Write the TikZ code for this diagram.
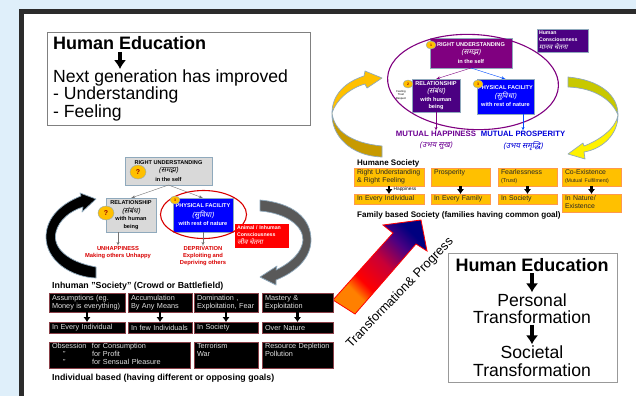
\documentclass[tikz,border=0pt]{standalone}
\usepackage{fontspec}
\setmainfont{Liberation Sans}
\newfontfamily\hindi[Script=Devanagari,FakeSlant=0.2,Scale=1.3]{Noto Sans}
\usepackage{tikz}
\usetikzlibrary{arrows,arrows.meta,shapes.geometric}
\setlength{\tabcolsep}{0pt}
\definecolor{pagesky}{HTML}{DFEFFA}
\definecolor{frame}{HTML}{2B2B2B}
\definecolor{amber}{HTML}{FFC000}
\definecolor{amberdark}{HTML}{C79A00}
\definecolor{indigoish}{HTML}{4B0082}
\definecolor{plum}{HTML}{800080}
\definecolor{olivey}{HTML}{C8C800}
\definecolor{steel}{HTML}{8FA9BC}
\definecolor{bloodline}{HTML}{8A4048}
\pgfdeclarehorizontalshading{bigshade}{100bp}{color(0bp)=(orange); color(31bp)=(orange); color(38bp)=(red); color(53bp)=(purple!85!red); color(66bp)=(indigoish); color(75bp)=(blue!50!black); color(100bp)=(blue!50!black)}

\begin{document}
\begin{tikzpicture}[
    x=1pt,
    y=-1pt,
    >=latex',
    font=\fontsize{7}{8}\selectfont,
    whitebox/.style={
		rectangle,
		draw=gray,
		fill=white,
		anchor=north west
	},
	tabcell/.style={
		rectangle,
		anchor=north west,
		inner sep=0pt,
		outer sep=0pt
	},
	blackcell/.style={
		tabcell,
		draw=bloodline,
		line width=0.7pt,
		fill=black,
		align=left,
		text=white!88!black,
		font=\fontsize{7.3}{8}\selectfont
	},
	humanecell/.style={
		tabcell,
		draw=orange!60!pink,
		line width=0.6pt,
		fill=amber,
		align=left,
		text=black!85,
		font=\fontsize{6.9}{8}\selectfont
	},
	colourcell/.style={
		tabcell,
		draw=steel,
		line width=0.6pt,
		text=white,
		font=\bfseries\fontsize{5.6}{8.4}\selectfont
	},
	mindcell/.style={
		colourcell,
		align=left,
		font=\bfseries\fontsize{5.2}{6.6}\selectfont
	},
	badge/.style={
		ellipse,
		draw=steel,
		fill=amber,
		inner sep=0pt,
		text=red!60!black,
		font=\bfseries\fontsize{3.5}{4}\selectfont
	},
	bigbadge/.style={
		badge,
		minimum width=16pt,
		minimum height=14pt,
		font=\bfseries\fontsize{7}{8}\selectfont
	},
	heading/.style={
		anchor=west,
		inner sep=0pt,
		font=\bfseries\fontsize{8}{9}\selectfont
	},
	bigtext/.style={
		inner sep=1pt,
		font=\fontsize{17.6}{19}\selectfont
	},
	fatarrow/.style={
		-{Latex[length=5pt,width=7.5pt]},
		line width=2.4pt,
		black
	},
	hugearrow/.style={
		-{Latex[length=9pt,width=12.5pt]},
		line width=4pt,
		black
	},
	ribbon/.style={
		draw=steel,
		line width=0.7pt,
		line join=round
	}
  ]
  % page and frame
  \useasboundingbox (0,0) rectangle (636,396);
  \fill [pagesky] (0,0) rectangle (636,396);
  \fill [frame] (19,9) rectangle (636,396);
  \fill [white] (24,14) rectangle (636,396);

  % upper left box
  \node [whitebox, minimum width=263pt, minimum height=93pt] (topbox) at (47,32) {};
  \node [bigtext, anchor=west, inner sep=0pt, font=\bfseries\fontsize{18}{19}\selectfont] (topeduc) at (53,43) {Human Education};
  \node [bigtext, anchor=west, inner sep=0pt] (nextgen) at (53,78) {Next generation has improved};
  \node [bigtext, anchor=west, inner sep=0pt] (underst) at (53,95) {- Understanding};
  \node [bigtext, anchor=west, inner sep=0pt] (feeling) at (53,113) {- Feeling};
  \coordinate (topfrom) at (120,52);
  \coordinate (topto) at (120,69);
  \draw [hugearrow] (topfrom) -- (topto);

  % curved arrows round the upper diagram
  \path [ribbon, fill=amber] (382,78) -- (365,71) -- (364,76) .. controls (345,82) and (332,95) .. (332,113)
     .. controls (336,100) and (350,88) .. (365,84) -- (367,88) -- cycle;
  \path [ribbon, fill=amberdark] (332,113) .. controls (331,135) and (350,156) .. (382,157) -- (382,146)
     .. controls (350,143) and (334,130) .. (332,113) -- cycle;
  \path [ribbon, fill=olivey] (568,77) .. controls (600,80) and (618,95) .. (618,115)
     .. controls (612,100) and (595,88) .. (568,87) -- cycle;
  \path [ribbon, fill=yellow] (618,115) .. controls (618,135) and (602,149) .. (584,152) -- (585,159) -- (568,154) -- (583,143) -- (584,146)
     .. controls (600,140) and (616,128) .. (618,115) -- cycle;

  % upper diagram
  \node [colourcell, fill=plum, minimum width=82pt, minimum height=30pt] (goodru) at (430,38)
 {%
 \begin{tabular}{c}
  RIGHT UNDERSTANDING\\
  {\hindi (समझ)}\\
  in the self
 \end{tabular}
 };
 \node [colourcell, fill=indigoish, minimum width=48pt, minimum height=33pt, font=\bfseries\fontsize{5.6}{7.6}\selectfont] (goodrel) at (412,79)
 {%
 \begin{tabular}{c}
  RELATIONSHIP\\
  {\hindi (संबंध)}\\
  with human\\
  being
 \end{tabular}
 };
 \node [colourcell, fill=blue, minimum width=57pt, minimum height=35pt] (goodphys) at (477,79)
 {%
 \begin{tabular}{c}
  PHYSICAL FACILITY\\
  {\hindi (सुविधा)}\\
  with rest of nature
 \end{tabular}
 };
 \node [mindcell, fill=indigoish, minimum width=51pt, minimum height=23pt, text width=47pt] (humanmind) at (537,29)
 {%
 \begin{tabular}{l}
  Human\\
  Consciousness\\
  {\hindi मानव चेतना}
 \end{tabular}
 };
 \node [ellipse, draw=plum, line width=1.1pt, minimum width=171pt, minimum height=95pt, rotate=-3, inner sep=0pt] (purplering) at (473,82) {};
 \node [badge, minimum width=10pt, minimum height=8pt] (goodone) at (431,45) {1};
 \node [badge, minimum width=10pt, minimum height=8pt] (goodtwo) at (408,84) {2};
 \node [badge, minimum width=10pt, minimum height=8pt] (goodthree) at (478,84) {3};
 \node [inner sep=0pt, text centered, font=\fontsize{2.8}{3.6}\selectfont] (trustnote) at (401,95)
 {%
 \begin{tabular}{c}
  Feeling\\
  Trust\\
  Respect
 \end{tabular}
 };
 \node [inner sep=0pt, text=plum!85!blue, font=\bfseries\fontsize{7.8}{8}\selectfont] (mhappy) at (436,134) {MUTUAL HAPPINESS};
 \node [inner sep=0pt, text=blue!85!black, font=\bfseries\fontsize{7.7}{8}\selectfont] (mprosp) at (523,134) {MUTUAL PROSPERITY};
 \node [inner sep=0pt, text=plum!85!blue, font=\bfseries\fontsize{6}{8}\selectfont] (mhappyhi) at (436,146) {\hindi (उभय सुख)};
 \node [inner sep=0pt, text=blue!85!black, font=\bfseries\fontsize{6}{8}\selectfont] (mprosphi) at (523,146) {\hindi (उभय समृद्धि)};

 \draw [draw=plum, ->] (goodru.south) -- (goodrel.north);
 \draw [draw=blue!70!cyan, ->] (goodru.south) -- (goodphys.north);
 \draw [draw=plum, ->] (goodrel.south) -- (mhappy.north);
 \draw [draw=blue!70!cyan, ->] (goodphys.south -| mprosp) -- (mprosp.north);

 % humane society table
 \node [heading, font=\bfseries\fontsize{8}{9}\selectfont] (humane) at (357,163) {Humane Society};
 \node [humanecell, minimum width=70pt, minimum height=18pt, text width=64pt] (hurow1) at (354,168)
 {%
 \begin{tabular}{l}
  Right Understanding\\
  \& Right Feeling
 \end{tabular}
 };
 \node [humanecell, minimum width=59pt, minimum height=18pt, text width=53pt] (hurow2) at (431,168)
 {%
 \begin{tabular}{l}
  Prosperity\\
  \phantom{x}
 \end{tabular}
 };
 \node [humanecell, minimum width=59pt, minimum height=18pt, text width=53pt] (hurow3) at (498,168)
 {%
 \begin{tabular}{l}
  Fearlessness\\
  {\fontsize{5.6}{7}\selectfont (Trust)}
 \end{tabular}
 };
 \node [humanecell, minimum width=59pt, minimum height=18pt, text width=53pt] (hurow4) at (562,168)
 {%
 \begin{tabular}{l}
  Co-Existence\\
  {\fontsize{5.2}{7}\selectfont (Mutual Fulfilment)}
 \end{tabular}
 };
 \node [humanecell, minimum width=70pt, minimum height=10pt, text width=64pt] (huwhere1) at (354,194) {In Every Individual};
 \node [humanecell, minimum width=59pt, minimum height=10pt, text width=53pt] (huwhere2) at (431,194) {In Every Family};
 \node [humanecell, minimum width=59pt, minimum height=10pt, text width=53pt] (huwhere3) at (498,194) {In Society};
 \node [humanecell, minimum width=59pt, minimum height=18pt, text width=53pt] (huwhere4) at (562,194)
 {%
 \begin{tabular}{l}
  In Nature/\\
  Existence
 \end{tabular}
 };
 \foreach \i in {1,2,3,4}
   \draw [fatarrow] (hurow\i) -- (huwhere\i);
 \node [inner sep=0pt, font=\fontsize{4.8}{6}\selectfont] (happynote) at (405,189) {Happiness};
 \node [heading, font=\bfseries\fontsize{8.1}{9}\selectfont] (family) at (357,215) {Family based Society (families having common goal)};

 % big arrow and its label
 \path [draw=red, line width=0.8pt, shading=bigshade, shading angle=45] (333,300) -- (393,233) -- (383,225) -- (421,220) -- (427,251) -- (416,244) -- (355,314) -- cycle;
 \node [rotate=46, inner sep=0pt, font=\fontsize{12.7}{15}\selectfont] (transprog) at (400,293) {Transformation\& Progress};

 % lower right box
 \node [whitebox, draw=gray!80, line width=0.8pt, minimum width=169pt, minimum height=129pt] (lowbox) at (448,253) {};
 \node [bigtext, font=\bfseries\fontsize{18}{19}\selectfont] (loweduc) at (532,265) {Human Education};
 \node [bigtext] (personal) at (532,300) {Personal};
 \node [bigtext] (transa) at (532,317) {Transformation};
 \node [bigtext] (societal) at (532,352) {Societal};
 \node [bigtext] (transb) at (532,370) {Transformation};
 \draw [hugearrow] (loweduc) -- (personal);
 \draw [hugearrow] (transa) -- (societal);

 % curved arrows round the lower diagram
 \path [ribbon, fill=black] (96,199) -- (80,193) -- (81,196) .. controls (58,205) and (46,220) .. (46,237)
    .. controls (46,260) and (70,277) .. (96,278) -- (96,267) .. controls (68,262) and (52,248) .. (56,232)
    .. controls (59,220) and (70,211) .. (83,207) -- (82,212) -- cycle;
 \path [ribbon, fill=black!65] (260,200) .. controls (293,203) and (311,218) .. (311,240)
    .. controls (311,258) and (296,272) .. (276,280) -- (276,285) -- (260,277) -- (277,266) -- (276,270)
    .. controls (292,262) and (302,252) .. (303,240) .. controls (303,225) and (285,213) .. (260,211) -- cycle;

 % lower diagram
 \node [colourcell, fill=gray!30, text=black, minimum width=87pt, minimum height=28pt] (badru) at (125,157)
 {%
 \begin{tabular}{c}
  RIGHT UNDERSTANDING\\
  {\hindi (समझ)}\\
  in the self
 \end{tabular}
 };
 \node [colourcell, fill=gray!30, text=black, minimum width=50pt, minimum height=34pt, font=\bfseries\fontsize{5.6}{7.6}\selectfont] (badrel) at (106,198)
 {%
 \begin{tabular}{c}
  RELATIONSHIP\\
  {\hindi (संबंध)}\\
  with human\\
  being
 \end{tabular}
 };
 \node [colourcell, fill=blue, minimum width=60pt, minimum height=34pt] (badphys) at (173,198)
 {%
 \begin{tabular}{c}
  PHYSICAL FACILITY\\
  {\hindi (सुविधा)}\\
  with rest of nature
 \end{tabular}
 };
 \node [ellipse, draw=red!85!black, line width=1.1pt, minimum width=86pt, minimum height=48pt, inner sep=0pt] (redring) at (203.5,214.5) {};
 \node [bigbadge] (badqa) at (138,172) {?};
 \node [bigbadge] (badqb) at (106,213) {?};
 \node [badge, minimum width=10pt, minimum height=8pt] (badthree) at (175,200) {3};
 \node [mindcell, fill=red, draw=red, minimum width=53pt, minimum height=23pt, text width=49pt] (animalmind) at (235,224)
 {%
 \begin{tabular}{l}
  Animal / Inhuman\\
  Consciousness\\
  {\hindi जीव चेतना}
 \end{tabular}
 };
 \node [inner sep=0pt, text=red!85!black, font=\bfseries\fontsize{5.8}{6.6}\selectfont, anchor=north] (unhappy) at (118,246)
 {%
 \begin{tabular}{c}
  UNHAPPINESS\\
  Making others Unhappy
 \end{tabular}
 };
 \node [inner sep=0pt, text=red!85!black, font=\bfseries\fontsize{5.8}{6.6}\selectfont, anchor=north] (deprive) at (203,246)
 {%
 \begin{tabular}{c}
  DEPRIVATION\\
  Exploiting and\\
  Depriving others
 \end{tabular}
 };

 \draw [draw=gray!90!black, ->] (badru.south) -- (badrel.north);
 \draw [draw=gray!90!black, ->] (badru.south) -- (badphys.north);
 \draw [draw=gray!90!black, ->] (badrel.south -| unhappy) -- (unhappy.north);
 \draw [draw=gray!90!black, ->] (badphys.south) -- (deprive.north);

 % inhuman society table
 \node [heading, font=\bfseries\fontsize{8.8}{9}\selectfont] (inhuman) at (52,286) {Inhuman "Society" (Crowd or Battlefield)};
 \node [blackcell, minimum width=76pt, minimum height=19pt, text width=70pt] (inrow1) at (49,293)
 {%
 \begin{tabular}{l}
  Assumptions (eg.\\
  Money is everything)
 \end{tabular}
 };
 \node [blackcell, minimum width=64pt, minimum height=19pt, text width=58pt] (inrow2) at (128,293)
 {%
 \begin{tabular}{l}
  Accumulation\\
  By Any Means
 \end{tabular}
 };
 \node [blackcell, minimum width=64pt, minimum height=19pt, text width=58pt] (inrow3) at (194,293)
 {%
 \begin{tabular}{l}
  Domination ,\\
  Exploitation, Fear
 \end{tabular}
 };
 \node [blackcell, minimum width=71pt, minimum height=19pt, text width=65pt] (inrow4) at (262,293)
 {%
 \begin{tabular}{l}
  Mastery \&\\
  Exploitation
 \end{tabular}
 };
 \node [blackcell, minimum width=76pt, minimum height=11pt, text width=70pt] (inwhere1) at (49,322) {In Every Individual};
 \node [blackcell, minimum width=64pt, minimum height=11pt, text width=58pt] (inwhere2) at (128,322) {In few Individuals};
 \node [blackcell, minimum width=64pt, minimum height=11pt, text width=58pt] (inwhere3) at (194,322) {In Society};
 \node [blackcell, minimum width=71pt, minimum height=11pt, text width=65pt] (inwhere4) at (262,322) {Over Nature};
 \foreach \i in {1,2,3,4}
   \draw [fatarrow] (inrow\i) -- (inwhere\i);
 \node [blackcell, minimum width=141pt, minimum height=26pt, text width=135pt] (inresult1) at (49,342)
 {%
 \begin{tabular}{p{40pt}l}
  Obsession & for Consumption\\
  \hspace{11pt}" & for Profit\\
  \hspace{11pt}" & for Sensual Pleasure
 \end{tabular}
 };
 \node [blackcell, minimum width=64pt, minimum height=26pt, text width=58pt] (inresult2) at (194,342)
 {%
 \begin{tabular}{l}
  Terrorism\\
  War\\
  \phantom{x}
 \end{tabular}
 };
 \node [blackcell, minimum width=71pt, minimum height=26pt, text width=65pt] (inresult3) at (262,342)
 {%
 \begin{tabular}{l}
  Resource Depletion\\
  Pollution\\
  \phantom{x}
 \end{tabular}
 };
 \node [heading, font=\bfseries\fontsize{8.8}{9}\selectfont] (individual) at (52,378) {Individual based (having different or opposing goals)};

\end{tikzpicture}
\end{document}
